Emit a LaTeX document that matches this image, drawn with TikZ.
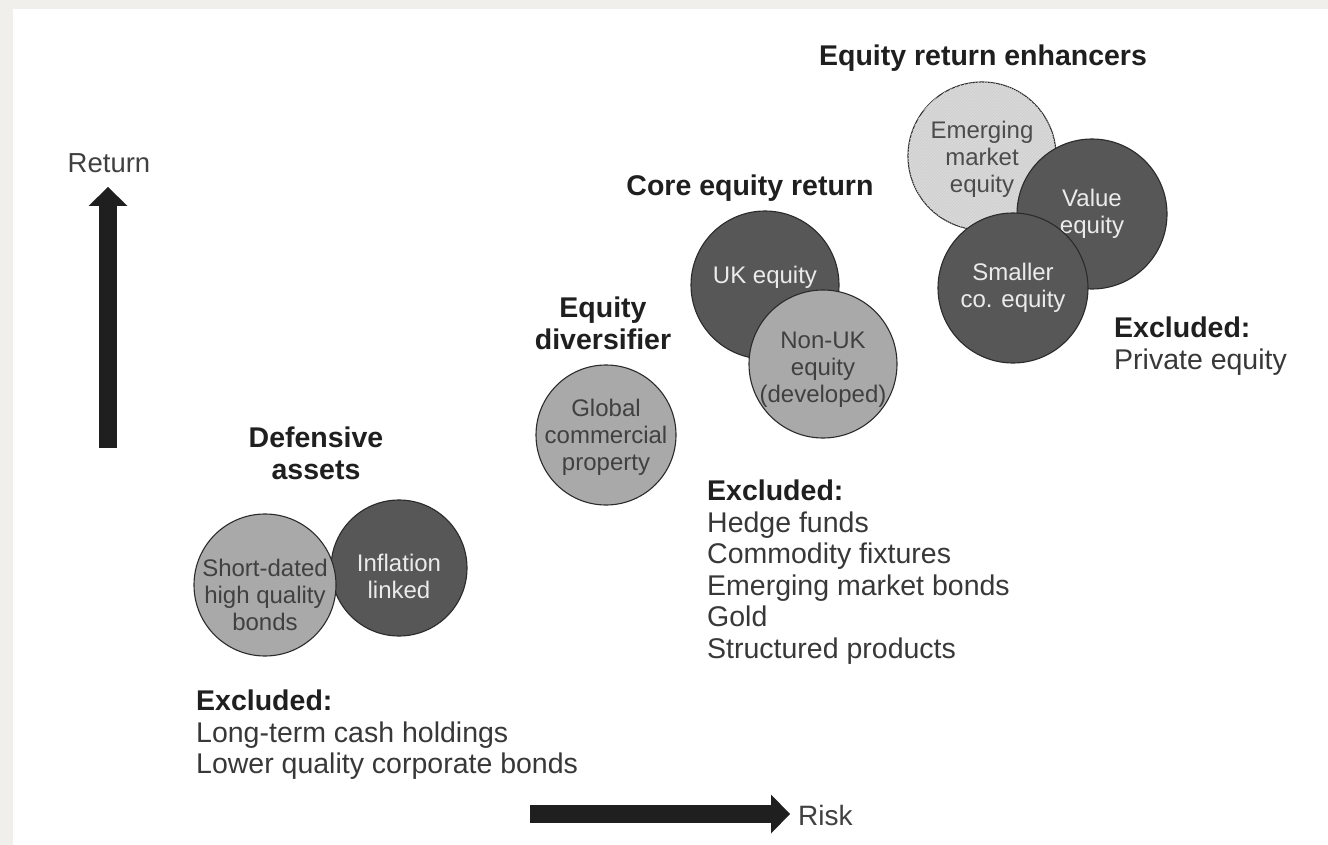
\documentclass[tikz,border=0pt]{standalone}
\usepackage{fontspec}
\setmainfont{Liberation Sans}
\usetikzlibrary{positioning,arrows.meta,patterns}

\definecolor{frame}{HTML}{F1EFEC}
\definecolor{lite}{HTML}{A9A9A9}
\definecolor{dark}{HTML}{575757}
\definecolor{pale}{HTML}{DADADA}
\definecolor{rim}{HTML}{2B2B2B}
\definecolor{ink}{HTML}{1F1F1F}

\begin{document}
\begin{tikzpicture}[x=1pt,y=-1pt,
	bubble/.style={circle,draw=rim,line width=1.1pt,inner sep=0pt,minimum size=#1pt},
	bubtext/.style={inner sep=0pt,align=center,font=\fontsize{24}{27}\selectfont},
	litebub/.style={fill=lite},
	darkbub/.style={fill=dark},
	palebub/.style={fill=pale,postaction={pattern=north east lines,pattern color=black!20}},
	litetext/.style={text=black!75},
	darktext/.style={text=white!92!black},
	paletext/.style={text=black!70},
	head/.style={font=\bfseries\fontsize{28.5}{31.5}\selectfont,text=ink,align=center,inner sep=0pt,anchor=north},
	excl/.style={font=\fontsize{28.5}{31.5}\selectfont,text=black!78,align=left,inner sep=0pt,anchor=north west},
	axis/.style={line width=18pt,draw=ink,-{Triangle[width=39pt,length=19pt,line width=0pt]}}]
\useasboundingbox (0,0) rectangle (1328,845);
\fill[frame] (0,0) rectangle (1328,845);
\fill[white] (13,9) rectangle (1328,845);

% axes
\coordinate (rlo) at (108,448);
\coordinate (rhi) at (108,187);
\coordinate (klo) at (530,814);
\coordinate (khi) at (790,814);
\draw[axis] (rlo)--(rhi);
\draw[axis] (klo)--(khi);
\node[font=\fontsize{27.5}{30}\selectfont,text=black!75] (ret) at (109,163) {Return};
\node[font=\fontsize{28}{30}\selectfont,text=black!75,anchor=west,inner sep=0pt] (risk) at (798,815) {Risk};

% bubbles, back to front (text offset in the last but one field)
\foreach \n/\x/\y/\d/\s/\o/\t in {inf/399/568/136/dark/-8/{Inflation\\linked},
	sd/265/585/142/lite/-10/{Short-dated\\high quality\\bonds},
	glob/606/435/140/lite/-2/{Global\\commercial\\property},
	uk/765/285/148/dark/8/{UK equity},
	nonuk/823/364/148/lite/-6/{Non-UK\\equity\\(developed)},
	em/982/156/148/pale/-3/{Emerging\\market\\equity},
	val/1092/214/150/dark/0/{Value\\equity},
	sm/1013/288/150/dark/0/{Smaller\\co. equity}}
{
	\node[bubble=\d,\s bub] (\n) at (\x,\y) {};
	\node[bubtext,\s text] (\n txt) at ([yshift=\o pt]\n.center) {\t};
}

% group titles
\node[head] (hdef) at (316,427) {Defensive\\assets};
\node[head] (hdiv) at (603,297) {Equity\\diversifier};
\node[head] (hcore) at (750,175) {Core equity return};
\node[head] (henh) at (983,45) {Equity return enhancers};

% exclusions
\node[excl] (xdef) at (196,690) {\textbf{\color{ink}Excluded:}\\Long-term cash holdings\\Lower quality corporate bonds};
\node[excl] (xmid) at (707,480) {\textbf{\color{ink}Excluded:}\\Hedge funds\\Commodity fixtures\\Emerging market bonds\\Gold\\Structured products};
\node[excl] (xenh) at (1114,317) {\textbf{\color{ink}Excluded:}\\Private equity};
\end{tikzpicture}
\end{document}
